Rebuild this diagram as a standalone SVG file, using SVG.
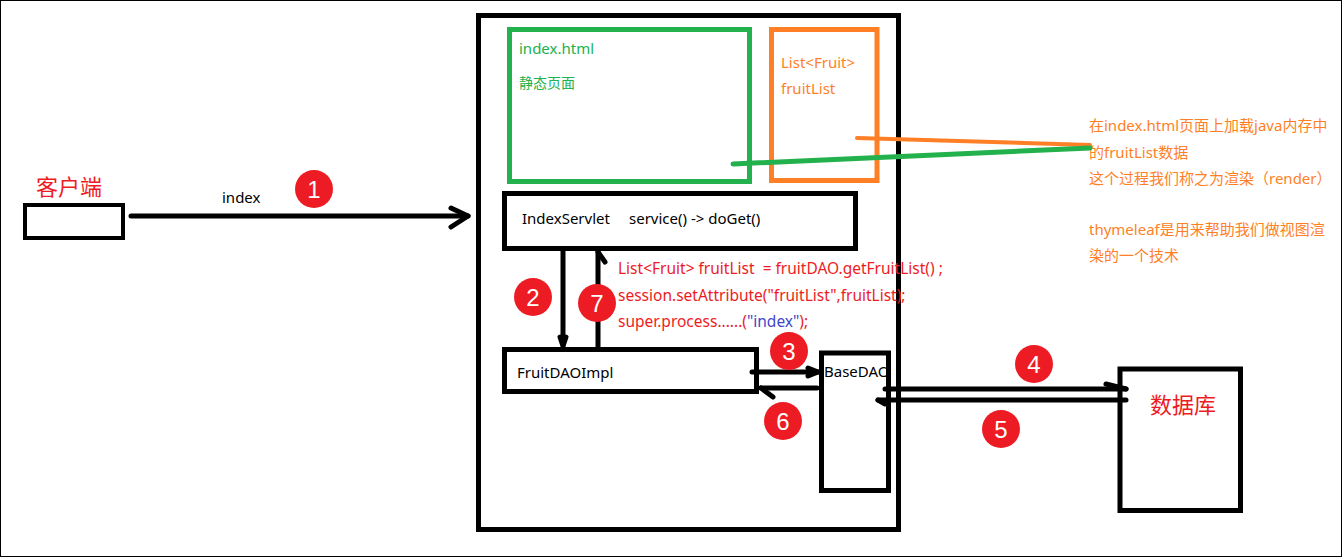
<svg xmlns="http://www.w3.org/2000/svg" width="1343" height="558" viewBox="0 0 1343 558">
<style>
text{font-family:"Noto Sans","Noto Sans CJK SC",sans-serif;font-size:15px;white-space:pre}
.box{fill:none;stroke:#000;stroke-width:5}
.ln{fill:none;stroke:#000;stroke-width:5;stroke-linecap:round;stroke-linejoin:round}
.red{fill:#ed1c24}
.org{fill:#ff7f27}
.grn{fill:#22b14c}
.code{font-size:15.5px}
.num{fill:#fff;font-family:"Liberation Sans",sans-serif;font-size:24px;text-anchor:middle}
.dot{fill:#ed1c24}
</style>
<rect x="0.5" y="0.5" width="1341" height="556" fill="#fff" stroke="#000" stroke-width="1"/>
<g id="server">
<rect class="box" x="478.5" y="15.5" width="420" height="514"/>
</g>
<g id="indexhtml">
<rect x="509.5" y="29.5" width="240" height="152" fill="none" stroke="#22b14c" stroke-width="5"/>
<text class="grn" x="519" y="54">index.html</text>
<text class="grn" x="519" y="88" style="font-size:14px">静态页面</text>
</g>
<g id="fruitlist">
<rect x="771.5" y="29.5" width="105.5" height="151" fill="none" stroke="#ff7f27" stroke-width="5"/>
<text class="org" x="781" y="68">List&lt;Fruit&gt;</text>
<text class="org" x="781" y="94">fruitList</text>
</g>
<g id="client">
<rect x="25" y="205" width="98" height="33" fill="none" stroke="#000" stroke-width="4"/>
<text class="red" x="36" y="195" style="font-size:22px">客户端</text>
</g>
<g id="indexservlet">
<rect class="box" x="504.5" y="193.5" width="351" height="55"/>
<text x="522" y="224" fill="#000">IndexServlet    <tspan x="629">service() -&gt; doGet()</tspan></text>
</g>
<g id="fruitdaoimpl">
<rect class="box" x="504.5" y="349.5" width="252" height="42"/>
<text x="517" y="378" fill="#000">FruitDAOImpl</text>
</g>
<g id="basedao">
<text x="824" y="377" fill="#000">BaseDAO</text>
<rect class="box" x="821.5" y="353" width="67" height="137.5"/>
</g>
<g id="database">
<rect class="box" x="1120" y="369" width="120.5" height="141.5"/>
<text class="red" x="1150" y="413" style="font-size:22px">数据库</text>
</g>
<g id="code">
<text class="red code" x="618" y="274">List&lt;Fruit&gt; fruitList  = fruitDAO.getFruitList() ;</text>
<text class="red code" x="618" y="301">session.setAttribute("fruitList",fruitList);</text>
<text class="red code" x="618" y="327">super.process......(<tspan fill="#3f48cc">"index"</tspan>);</text>
</g>
<g id="note">
<text class="org" x="1089" y="131">在index.html页面上加载java内存中</text>
<text class="org" x="1089" y="158">的fruitList数据</text>
<text class="org" x="1089" y="184">这个过程我们称之为渲染（render）</text>
<text class="org" x="1089" y="235">thymeleaf是用来帮助我们做视图渲</text>
<text class="org" x="1089" y="261">染的一个技术</text>
</g>
<g id="connectors">
<line x1="857" y1="138" x2="1090" y2="145" stroke="#ff7f27" stroke-width="4" stroke-linecap="round"/>
<line x1="733" y1="164" x2="1090" y2="148" stroke="#22b14c" stroke-width="5" stroke-linecap="round"/>
<line class="ln" x1="131" y1="216" x2="468" y2="216"/>
<polyline class="ln" points="451,208 468,216 451,227"/>
<text x="222" y="203" fill="#000">index</text>
<line class="ln" x1="563" y1="251" x2="563" y2="345"/>
<polyline class="ln" points="560,337 563,346 566,337"/>
<line class="ln" x1="598" y1="349" x2="598" y2="252"/>
<line class="ln" x1="598" y1="252" x2="605" y2="262"/>
<line class="ln" x1="752" y1="372" x2="818" y2="372"/>
<polyline class="ln" points="808,368 818,372 808,376"/>
<line class="ln" x1="817" y1="388" x2="761" y2="388"/>
<line class="ln" x1="761" y1="388" x2="773" y2="397"/>
<line class="ln" x1="885" y1="389" x2="1126" y2="389"/>
<line class="ln" x1="1106" y1="384" x2="1126" y2="389"/>
<line class="ln" x1="1126" y1="400" x2="878" y2="400"/>
<line class="ln" x1="878" y1="400" x2="885" y2="404"/>
</g>
<g id="steps">
<circle class="dot" cx="314" cy="189" r="19"/><text class="num" x="314" y="198">1</text>
<circle class="dot" cx="533" cy="297" r="19"/><text class="num" x="533" y="306">2</text>
<circle class="dot" cx="597" cy="303" r="19"/><text class="num" x="597" y="312">7</text>
<circle class="dot" cx="789" cy="351" r="19"/><text class="num" x="789" y="360">3</text>
<circle class="dot" cx="783" cy="421" r="19"/><text class="num" x="783" y="430">6</text>
<circle class="dot" cx="1034" cy="364" r="19"/><text class="num" x="1034" y="373">4</text>
<circle class="dot" cx="1001" cy="429" r="19"/><text class="num" x="1001" y="438">5</text>
</g>
</svg>
